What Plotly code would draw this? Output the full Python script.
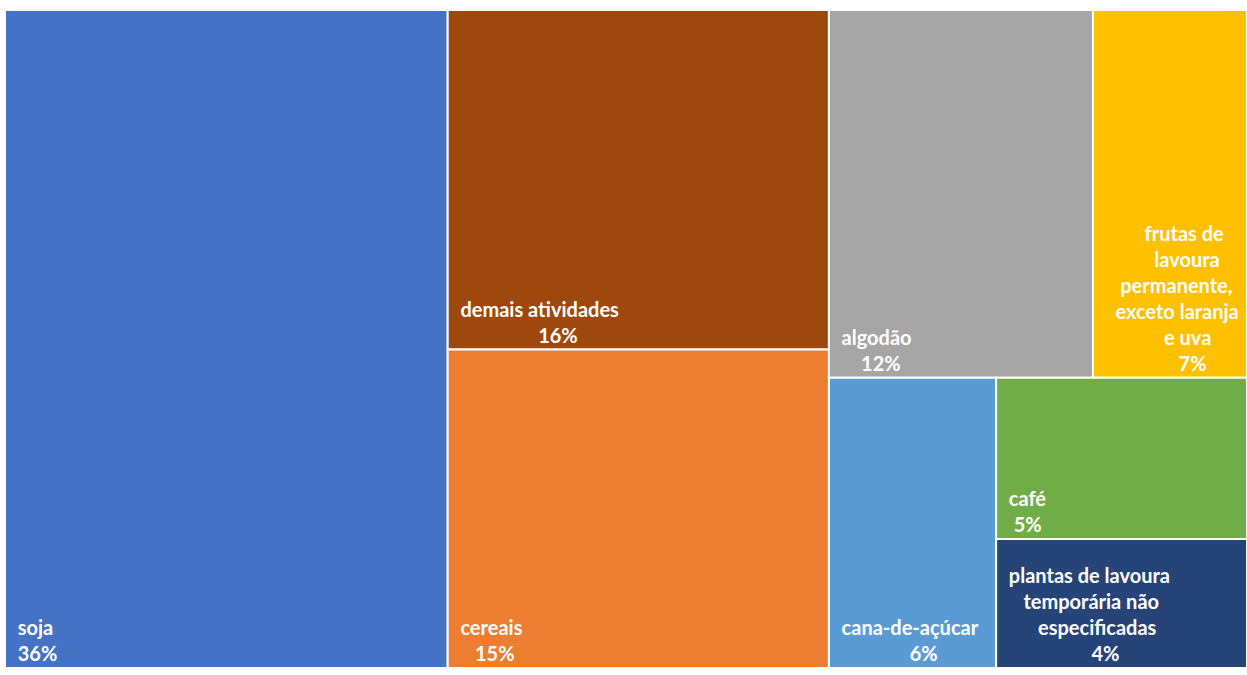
import plotly.graph_objects as go

# Share of each activity (%)
categories = [
    "soja",
    "demais atividades",
    "cereais",
    "algodão",
    "frutas de lavoura permanente, exceto laranja e uva",
    "cana-de-açúcar",
    "café",
    "plantas de lavoura temporária não especificadas",
]
shares = [36, 16, 15, 12, 7, 6, 5, 4]

# Lines of each tile label, with the indent (in spaces) that centres each line
# under the longest one
name_lines = [
    [("soja", 0)],
    [("demais atividades", 0)],
    [("cereais", 0)],
    [("algodão", 0)],
    [("frutas de", 8), ("lavoura", 10), ("permanente,", 3), ("exceto laranja", 2), ("e uva", 12)],
    [("cana-de-açúcar", 0)],
    [("café", 0)],
    [("plantas de lavoura", 0), ("temporária não", 3), ("especificadas", 6)],
]
value_indent = [0, 16, 3, 4, 15, 14, 1, 17]

colors = [
    "#4472C4",  # soja
    "#9E480E",  # demais atividades
    "#ED7D31",  # cereais
    "#A5A5A5",  # algodão
    "#FFC000",  # frutas
    "#5B9BD5",  # cana-de-açúcar
    "#70AD47",  # café
    "#264478",  # plantas de lavoura temporária
]

NBSP = "\u00a0"
LEFT = NBSP * 2  # inner margin before every line

tile_text = [
    "<br>".join(LEFT + NBSP * n + line for line, n in lines) for lines in name_lines
]
value_prefix = [LEFT + NBSP * n for n in value_indent]

fig = go.Figure(
    go.Treemap(
        labels=categories,
        parents=[""] * len(categories),
        values=shares,
        text=tile_text,
        customdata=value_prefix,
        texttemplate="%{text}<br>%{customdata}%{value}%",
        textposition="bottom left",
        textfont=dict(family="Lato", size=20, color="white", weight="bold"),
        marker=dict(
            colors=colors,
            line=dict(color="white", width=2),
            pad=dict(t=0, l=0, r=0, b=0),
        ),
        tiling=dict(packing="squarify", squarifyratio=1.154, pad=0),
        pathbar=dict(visible=False),
        hoverinfo="label+value",
        sort=True,
    )
)

fig.update_layout(
    width=1247,
    height=675,
    margin=dict(l=5, r=0, t=10, b=7),
    paper_bgcolor="white",
    showlegend=False,
)

fig.write_html("out.html")
